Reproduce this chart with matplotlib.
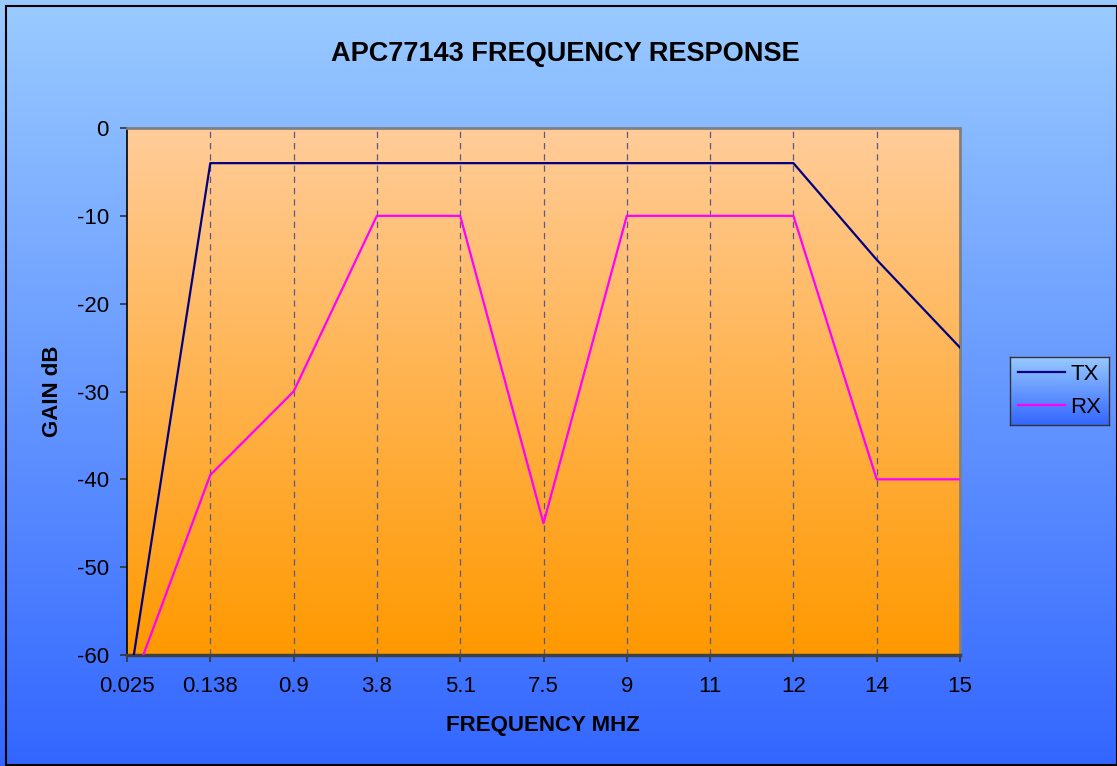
import numpy as np
import matplotlib
matplotlib.use("Agg")
import matplotlib.pyplot as plt
from matplotlib.colors import LinearSegmentedColormap

plt.rcParams['font.family'] = ['Liberation Sans', 'DejaVu Sans']
plt.rcParams['axes.unicode_minus'] = False

freqs = ['0.025', '0.138', '0.9', '3.8', '5.1', '7.5', '9', '11', '12', '14', '15']
tx_gain = [-65, -4, -4, -4, -4, -4, -4, -4, -4, -15, -25]
rx_gain = [-65, -39.5, -30, -10, -10, -45, -10, -10, -10, -40, -40]

W, H = 1117, 766
fig = plt.figure(figsize=(W / 100, H / 100), dpi=100)

# figure background gradient
bg = fig.add_axes([0, 0, 1, 1], zorder=-2)
bg_cmap = LinearSegmentedColormap.from_list('bg', ['#9acbff', '#3366ff'])
bg.imshow(np.linspace(0, 1, 256).reshape(-1, 1), aspect='auto', cmap=bg_cmap,
          extent=[0, 1, 0, 1], origin='upper')
bg.set_xlim(0, 1)
bg.set_ylim(0, 1)
bg.set_xticks([])
bg.set_yticks([])
for s in bg.spines.values():
    s.set_visible(False)
# black frame
fx0, fy0 = 6 / W, 1 - 765 / H
bg.add_patch(plt.Rectangle((fx0, fy0), 1 - fx0, 1 - 6 / H - fy0, fill=False,
                           edgecolor='black', lw=1.5, transform=bg.transAxes))

left, right, top, bottom = 127 / W, 960 / W, 1 - 128 / H, 1 - 655 / H
ax = fig.add_axes([left, bottom, right - left, top - bottom])
x = np.arange(len(freqs))

pa_cmap = LinearSegmentedColormap.from_list('pa', ['#ffcc99', '#ff9900'])
ax.imshow(np.linspace(0, 1, 256).reshape(-1, 1), aspect='auto', cmap=pa_cmap,
          extent=[0, len(freqs) - 1, -60, 0], origin='upper', zorder=0)

for xi in x[1:-1]:
    ax.axvline(xi, color='#5a5a88', lw=0.9, ls=(0, (5, 4)), zorder=1)

ax.plot(x, tx_gain, color='#000080', lw=1.6, label='TX', zorder=3)
ax.plot(x, rx_gain, color='#ff00ff', lw=1.6, label='RX', zorder=3)

ax.set_xlim(0, len(freqs) - 1)
ax.set_ylim(-60, 0)
ax.set_xticks(x)
ax.set_xticklabels(freqs)
ax.set_yticks(np.arange(-60, 1, 10))
ax.tick_params(axis='both', direction='out', length=5, width=1.2, labelsize=16,
               color='#333333')
ax.tick_params(axis='x', pad=10)
ax.tick_params(axis='y', pad=8)
ax.spines['top'].set_color('#808080')
ax.spines['right'].set_color('#808080')
ax.spines['top'].set_linewidth(2)
ax.spines['right'].set_linewidth(2)
ax.spines['left'].set_color('black')
ax.spines['left'].set_linewidth(1.2)
ax.spines['bottom'].set_color('#404040')
ax.spines['bottom'].set_linewidth(2.5)

fig.text(543 / W, 1 - 725 / H, 'FREQUENCY MHZ', fontsize=16, fontweight='bold',
         ha='center', va='center')
fig.text(52 / W, 1 - 391 / H, 'GAIN dB', fontsize=16, fontweight='bold',
         ha='center', va='center', rotation=90)
fig.text(565 / W, 1 - 54 / H, 'APC77143 FREQUENCY RESPONSE', fontsize=19.5,
         fontweight='bold', ha='center', va='center')

# legend box with its own gradient
lx0, lx1, ly0, ly1 = 1010 / W, 1109 / W, 1 - 425 / H, 1 - 357 / H
lg = fig.add_axes([lx0, ly0, lx1 - lx0, ly1 - ly0], zorder=1)
lg.imshow(np.linspace(0, 1, 256).reshape(-1, 1), aspect='auto', cmap=bg_cmap,
          extent=[0, 1, 0, 1], origin='upper')
lg.set_xticks([])
lg.set_yticks([])
for s in lg.spines.values():
    s.set_color('#333333')
    s.set_linewidth(1)
handles, labels = ax.get_legend_handles_labels()
lg.legend(handles, labels, loc='center', frameon=False, fontsize=16,
          handlelength=2.1, handletextpad=0.25, labelspacing=0.55,
          borderaxespad=0)

fig.savefig('out.png', dpi=100)
